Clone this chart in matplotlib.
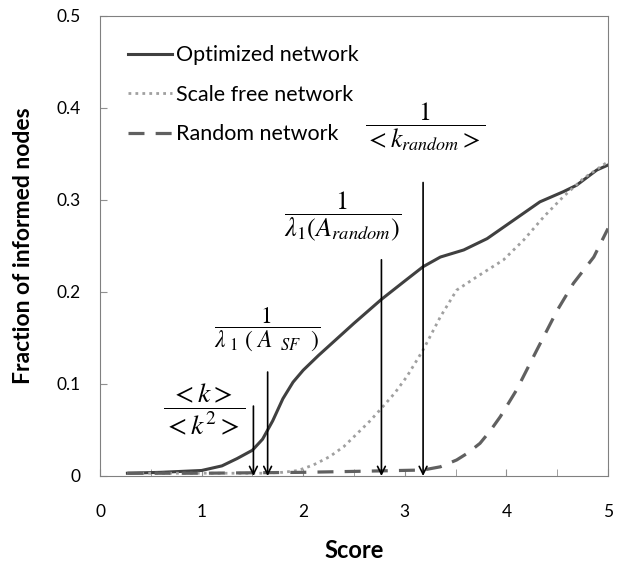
import matplotlib
matplotlib.use('Agg')
import matplotlib.pyplot as plt

plt.rcParams['font.family'] = ['Lato', 'DejaVu Sans']
plt.rcParams['mathtext.fontset'] = 'stix'

# curves
opt_x = [0.27, 0.6, 1.0, 1.2, 1.35, 1.5, 1.6, 1.7, 1.8, 1.9, 2.0, 2.15, 2.3, 2.5, 2.77,
         3.0, 3.18, 3.35, 3.58, 3.81, 4.07, 4.33, 4.56, 4.69, 4.89, 5.0]
opt_y = [0.003, 0.004, 0.006, 0.011, 0.019, 0.028, 0.040, 0.060, 0.084, 0.102, 0.115,
         0.131, 0.146, 0.166, 0.192, 0.212, 0.2275, 0.238, 0.2457, 0.258, 0.278, 0.298,
         0.309, 0.316, 0.3326, 0.338]

sf_x = [0.27, 1.0, 1.6, 1.8, 1.95, 2.1, 2.26, 2.4, 2.53, 2.65, 2.77, 2.9, 3.02, 3.18,
        3.35, 3.51, 3.71, 3.97, 4.17, 4.37, 4.56, 4.76, 5.0]
sf_y = [0.003, 0.003, 0.003, 0.004, 0.006, 0.012, 0.021, 0.032, 0.046, 0.059, 0.0736,
        0.09, 0.108, 0.137, 0.173, 0.202, 0.2166, 0.2348, 0.2565, 0.282, 0.3036, 0.3236,
        0.3416]

rnd_x = [0.27, 1.0, 2.0, 2.5, 3.18, 3.35, 3.51, 3.62, 3.74, 3.84, 3.94, 4.10, 4.30,
         4.50, 4.66, 4.86, 5.0]
rnd_y = [0.003, 0.003, 0.004, 0.005, 0.0065, 0.010, 0.0174, 0.025, 0.0355, 0.049,
         0.0645, 0.0935, 0.137, 0.180, 0.2095, 0.238, 0.269]

# threshold arrows and their labels
arrow_x = [1.51, 1.65, 2.77, 3.18]
arrow_top = [0.076, 0.113, 0.235, 0.319]
label_text = [r'$\dfrac{<k>}{<k^2>}$',
              r'$\dfrac{1}{\lambda_{\ 1}\ (\ A_{\ \ SF}\ \ )}$',
              r'$\dfrac{1}{\lambda_1(A_{random})}$',
              r'$\dfrac{1}{<k_{random}>}$']
label_x = [1.03, 1.65, 2.39, 3.2]
label_y = [0.073, 0.160, 0.282, 0.380]
label_size = [20, 17, 19, 18.5]

fig = plt.figure(figsize=(6.29, 5.61), dpi=100)
ax = fig.add_axes([100/629, 1 - 476/561, 508/629, 460/561])

ax.plot(opt_x, opt_y, color='#404040', lw=2.2, label='Optimized network')
ax.plot(sf_x, sf_y, color='#a0a0a0', lw=2.0, linestyle=(0, (1, 1.5)),
        label='Scale free network')
ax.plot(rnd_x, rnd_y, color='#606060', lw=2.3, linestyle=(0, (5, 3.5)),
        label='Random network')

for xa, ya in zip(arrow_x, arrow_top):
    ax.annotate('', xy=(xa, 0.0), xytext=(xa, ya),
                arrowprops=dict(arrowstyle='->', color='black', lw=1.2,
                                mutation_scale=14, shrinkA=0, shrinkB=0))

for t, xl, yl, fs in zip(label_text, label_x, label_y, label_size):
    ax.text(xl, yl, t, fontsize=fs, ha='center', va='center')

ax.set_xlim(0, 5)
ax.set_ylim(0, 0.5)
ax.set_xticks([0, 1, 2, 3, 4, 5])
ax.set_xticks([0.5, 1.5, 2.5, 3.5, 4.5], minor=True)
ax.set_xticklabels(['0', '1', '2', '3', '4', '5'])
ax.set_yticks([0, 0.1, 0.2, 0.3, 0.4, 0.5])
ax.set_yticklabels(['0', '0.1', '0.2', '0.3', '0.4', '0.5'])
ax.tick_params(which='both', direction='in', length=5, color='#909090', labelsize=12.5)
ax.tick_params(axis='x', pad=20)
ax.tick_params(axis='y', pad=14)
for s in ax.spines.values():
    s.set_color('#808080')

ax.set_xlabel('Score', fontsize=17, fontweight='bold', labelpad=14)
ax.set_ylabel('Fraction of informed nodes', fontsize=16.5, fontweight='bold')
ax.yaxis.set_label_coords(-0.13, 0.5)

ax.legend(loc='upper left', frameon=False, fontsize=15.5, handlelength=2.05,
          handletextpad=0.2, labelspacing=0.9, bbox_to_anchor=(0.038, 0.955),
          borderaxespad=0)

fig.savefig('out.png', dpi=100)
